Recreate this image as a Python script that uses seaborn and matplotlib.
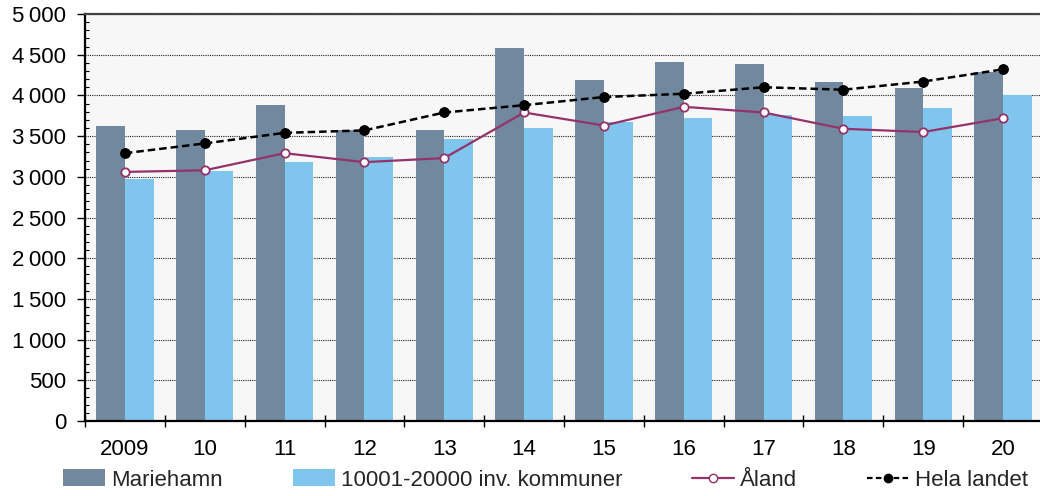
import numpy as np
import pandas as pd
import matplotlib
matplotlib.use("Agg")
import matplotlib.pyplot as plt
from matplotlib.ticker import FuncFormatter, MultipleLocator, FixedLocator
from matplotlib.lines import Line2D
from matplotlib.patches import Patch
import seaborn as sns

years = ["2009", "10", "11", "12", "13", "14", "15", "16", "17", "18", "19", "20"]
mariehamn = [3620, 3570, 3880, 3570, 3570, 4580, 4190, 4410, 4380, 4160, 4090, 4290]
kommuner = [2970, 3070, 3180, 3240, 3470, 3600, 3670, 3720, 3760, 3750, 3840, 4000]
aland = [3060, 3080, 3290, 3180, 3230, 3790, 3630, 3860, 3790, 3590, 3550, 3720]
hela = [3290, 3410, 3540, 3570, 3790, 3880, 3980, 4020, 4100, 4070, 4170, 4320]
series_names = ["Mariehamn", "10001-20000 inv. kommuner", "Åland", "Hela landet"]

c_mh = "#71889e"
c_ko = "#7fc5ee"
c_al = "#93336a"
c_hl = "#000000"
FS = 16

sns.set_theme(style="white")
plt.rcParams["font.family"] = ["Liberation Sans", "DejaVu Sans"]

fig = plt.figure(figsize=(10.4, 4.96), dpi=100)
ax = fig.add_axes([85 / 1040, 1 - 421 / 496, (1043 - 85) / 1040, (421 - 14) / 496])
ax.set_facecolor("#f7f7f7")

df = pd.DataFrame({
    "year": years * 2,
    "value": mariehamn + kommuner,
    "series": [series_names[0]] * len(years) + [series_names[1]] * len(years),
})
sns.barplot(data=df, x="year", y="value", hue="series", order=years,
            hue_order=series_names[:2], palette=[c_mh, c_ko], width=0.72,
            saturation=1, ax=ax, legend=False, edgecolor="none")

pos = np.arange(len(years))
sns.lineplot(x=pos, y=aland, ax=ax, color=c_al, lw=1.6, marker="o", markersize=6,
             markerfacecolor="white", markeredgecolor=c_al, markeredgewidth=1.3,
             zorder=5)
sns.lineplot(x=pos, y=hela, ax=ax, color=c_hl, lw=1.8, linestyle=(0, (3, 1.6)),
             marker="o", markersize=7, markerfacecolor=c_hl, markeredgecolor=c_hl,
             zorder=6)

ax.set_xlim(-0.5, len(years) - 0.5)
ax.set_ylim(0, 5000)
ax.set_xlabel("")
ax.set_ylabel("")

# y axis
ax.yaxis.set_major_locator(MultipleLocator(500))
ax.yaxis.set_minor_locator(MultipleLocator(100))
ax.yaxis.set_major_formatter(FuncFormatter(lambda v, p: f"{int(v):,}".replace(",", "\u2009")))
ax.tick_params(axis="y", which="major", direction="out", length=5.5, width=1,
               color="black", labelsize=FS, pad=8, left=True, labelcolor="black")
ax.tick_params(axis="y", which="minor", direction="in", length=3, width=0.8,
               color="black", left=True)

# x axis: ticks at boundaries, labels at centres
ax.xaxis.set_major_locator(FixedLocator(np.arange(-0.5, len(years), 1.0)))
ax.xaxis.set_major_formatter(FuncFormatter(lambda v, p: ""))
ax.set_xticks(pos, minor=True)
ax.set_xticklabels(years, minor=True)
ax.tick_params(axis="x", which="major", direction="inout", length=9, width=1,
               color="black", bottom=True)
ax.tick_params(axis="x", which="minor", length=0, labelsize=FS, pad=13,
               labelcolor="black")

ax.grid(axis="y", which="major", color="#222222", linestyle=(0, (1, 1)), lw=0.8)
ax.set_axisbelow(True)

for s in ["left", "bottom"]:
    ax.spines[s].set_color("black")
    ax.spines[s].set_linewidth(1.6)
ax.spines["top"].set_color("#444444")
ax.spines["top"].set_linewidth(1.6)
ax.spines["right"].set_visible(False)

handles = [
    Patch(facecolor=c_mh, edgecolor="none"),
    Patch(facecolor=c_ko, edgecolor="none"),
    Line2D([], [], color=c_al, lw=1.6, marker="o", markersize=6,
           markerfacecolor="white", markeredgecolor=c_al),
    Line2D([], [], color=c_hl, lw=1.6, linestyle=(0, (2.5, 1.5)), marker="o",
           markersize=6, markerfacecolor=c_hl),
]
fig.legend(handles, series_names, loc="center left",
           bbox_to_anchor=(63 / 1040, 1 - 480 / 496), ncol=4, frameon=False,
           fontsize=FS, handlelength=1.89, handleheight=0.8, handletextpad=0.27,
           columnspacing=3.15, borderpad=0, borderaxespad=0, numpoints=1)

fig.savefig("out.png", dpi=100, facecolor="white")
